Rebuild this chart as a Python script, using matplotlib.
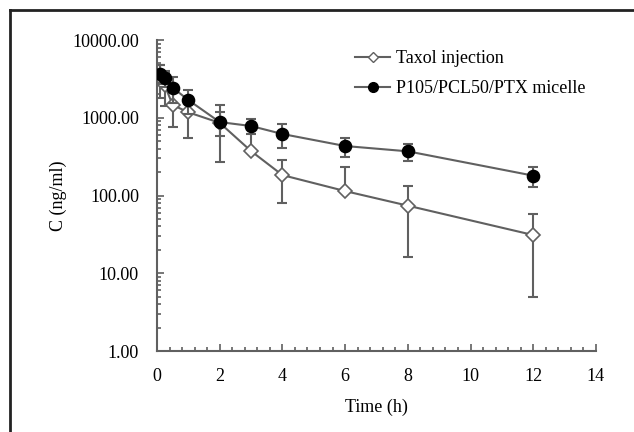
import numpy as np
import matplotlib
matplotlib.use("Agg")
import matplotlib.pyplot as plt
from matplotlib.ticker import FixedLocator, MultipleLocator, LogLocator, NullFormatter, FormatStrFormatter
from matplotlib.lines import Line2D

plt.rcParams['font.family'] = ['Liberation Serif', 'DejaVu Serif']

# time points (h)
time = [0.083, 0.25, 0.5, 1, 2, 3, 4, 6, 8, 12]

# Taxol injection: mean and SD (ng/ml)
taxol = [3300, 2600, 1460, 1175, 860, 373, 183, 114, 74, 31]
taxol_sd = [1500, 1200, 710, 620, 590, 380, 102, 117, 58, 26]

# P105/PCL50/PTX micelle: mean and SD (ng/ml)
micelle = [3700, 3250, 2440, 1690, 880, 783, 618, 433, 370, 180]
micelle_sd = [1000, 800, 870, 580, 300, 172, 215, 120, 92, 50]

gray = "#606060"

fig = plt.figure(figsize=(6.34, 4.32), dpi=100)
ax = fig.add_axes([0.2476, 0.1875, 0.6924, 0.7199])


def draw(t, m, sd, marker, face, ms, z):
    t = np.array(t)
    m = np.array(m, dtype=float)
    sd = np.array(sd, dtype=float)
    # upper bars
    ax.errorbar(t, m, yerr=[np.zeros_like(sd), sd], fmt="none", ecolor=gray,
                elinewidth=1.5, capsize=3.3, capthick=1.5, zorder=z)
    # lower bars only where they stay positive (log axis)
    ok = sd < m
    ax.errorbar(t[ok], m[ok], yerr=[sd[ok], np.zeros(ok.sum())], fmt="none",
                ecolor=gray, elinewidth=1.5, capsize=3.3, capthick=1.5, zorder=z)
    ax.plot(t, m, color=gray, lw=1.5, marker=marker, mfc=face,
            mec=gray if face == "white" else "black", mew=1.2, ms=ms, zorder=z + 1)


draw(time, taxol, taxol_sd, "D", "white", 7, 3)
draw(time, micelle, micelle_sd, "o", "black", 8.6, 5)

ax.set_yscale("log")
ax.set_ylim(1, 10000)
ax.set_xlim(0, 14)
ax.xaxis.set_major_locator(MultipleLocator(2))
ax.xaxis.set_minor_locator(MultipleLocator(0.4))
ax.yaxis.set_major_locator(FixedLocator([1, 10, 100, 1000, 10000]))
ax.yaxis.set_major_formatter(FormatStrFormatter("%.2f"))
ax.yaxis.set_minor_locator(LogLocator(base=10, subs=np.arange(2, 10)))
ax.yaxis.set_minor_formatter(NullFormatter())

for s in ["top", "right"]:
    ax.spines[s].set_visible(False)
for s in ["left", "bottom"]:
    ax.spines[s].set_color(gray)
    ax.spines[s].set_linewidth(1.5)

ax.tick_params(which="both", direction="in", color=gray, width=1.2)
ax.tick_params(which="major", length=5, labelsize=13)
ax.tick_params(which="minor", length=3)
ax.tick_params(axis="y", which="major", pad=13)
ax.tick_params(axis="x", which="major", pad=12)

ax.set_xlabel("Time (h)", fontsize=13, labelpad=10)
ax.set_ylabel("C (ng/ml)", fontsize=13, labelpad=4)

handles = [
    Line2D([], [], color=gray, lw=1.5, marker="D", mfc="white", mec=gray, ms=5.5),
    Line2D([], [], color=gray, lw=1.5, marker="o", mfc="black", mec="black", ms=7),
]
fig.legend(handles, ["Taxol injection", "P105/PCL50/PTX micelle"], loc="upper left",
           bbox_to_anchor=(355 / 634, 1 - 50 / 432), frameon=False, fontsize=13,
           labelspacing=0.72, handlelength=1.95, handletextpad=0.3,
           borderpad=0, borderaxespad=0)

# outer frame (top and left edges)
fig.add_artist(Line2D([9.5 / 634, 1], [1 - 9.5 / 432] * 2, transform=fig.transFigure, color="#222222", lw=2))
fig.add_artist(Line2D([9.5 / 634] * 2, [0, 1 - 9.5 / 432], transform=fig.transFigure, color="#222222", lw=2))

fig.savefig("out.png", dpi=100)
